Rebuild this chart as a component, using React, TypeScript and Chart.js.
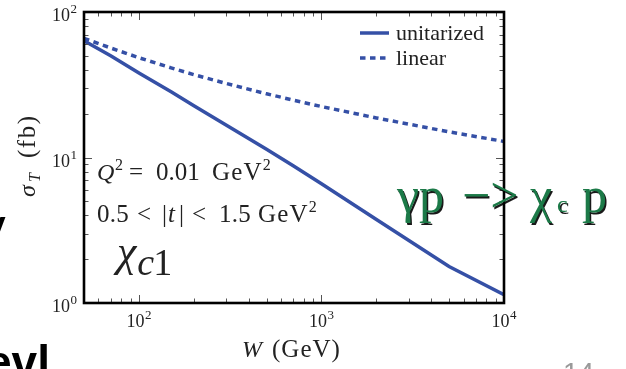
import React, { useEffect, useRef } from "react";
import { Chart, registerables } from "chart.js";

Chart.register(...registerables);

// ---- data ----
const W_VALUES = [50, 70, 100, 150, 200, 300, 500, 700, 1000, 2000, 5000, 10000];
const UNITARIZED = [63.5, 50.0, 38.1, 28.3, 22.7, 16.7, 11.4, 8.77, 6.6, 3.75, 1.78, 1.14];
const LINEAR = [65.9, 56.6, 48.5, 41.3, 37.1, 32.3, 27.4, 24.8, 22.4, 18.7, 15.0, 12.9];
const SERIES_LABELS = ["unitarized", "linear"];

const X_MAJOR = [100, 1000, 10000];
const X_MAJOR_EXP = ["2", "3", "4"];
const Y_MAJOR = [1, 10, 100];
const Y_MAJOR_EXP = ["0", "1", "2"];
const X_MINOR = [60, 70, 80, 90, 200, 300, 400, 500, 600, 700, 800, 900, 2000, 3000, 4000, 5000, 6000, 7000, 8000, 9000];
const Y_MINOR = [2, 3, 4, 5, 6, 7, 8, 9, 20, 30, 40, 50, 60, 70, 80, 90];

const BLUE = "#3550a6";
const SERIF = '"Liberation Serif", "Times New Roman", serif';
const SANS = '"Liberation Sans", sans-serif';

type Seg = { t: string; font: string; dy?: number; gap?: number; x?: number; ls?: number };

function richWidth(ctx: CanvasRenderingContext2D, segs: Seg[]) {
  let w = 0;
  for (const s of segs) {
    ctx.font = s.font;
    (ctx as any).letterSpacing = `${s.ls || 0}px`;
    w += ctx.measureText(s.t).width + (s.gap || 0);
  }
  (ctx as any).letterSpacing = "0px";
  return w;
}

function drawRich(ctx: CanvasRenderingContext2D, x: number, y: number, segs: Seg[]) {
  let cx = x;
  for (const s of segs) {
    if (s.x !== undefined) cx = s.x;
    ctx.font = s.font;
    (ctx as any).letterSpacing = `${s.ls || 0}px`;
    ctx.fillText(s.t, cx, y + (s.dy || 0));
    cx += ctx.measureText(s.t).width + (s.gap || 0);
  }
  (ctx as any).letterSpacing = "0px";
  return cx;
}

const f = (size: number, italic = false, weight = "normal", fam = SERIF) =>
  `${italic ? "italic " : ""}${weight} ${size}px ${fam}`;

const decorPlugin = {
  id: "decor",
  afterDatasetsDraw(chart: any) {
    const ctx: CanvasRenderingContext2D = chart.ctx;
    const { left, right, top, bottom } = chart.chartArea;
    const xs = chart.scales.x;
    const ys = chart.scales.y;
    ctx.save();
    // ticks
    ctx.strokeStyle = "#555";
    ctx.lineWidth = 1;
    const tick = (x1: number, y1: number, x2: number, y2: number) => {
      ctx.beginPath();
      ctx.moveTo(x1, y1);
      ctx.lineTo(x2, y2);
      ctx.stroke();
    };
    X_MAJOR.forEach((v) => {
      const px = Math.round(xs.getPixelForValue(v)) + 0.5;
      tick(px, bottom, px, bottom - 8);
      tick(px, top, px, top + 8);
    });
    X_MINOR.forEach((v) => {
      const px = Math.round(xs.getPixelForValue(v)) + 0.5;
      tick(px, bottom, px, bottom - 4.5);
      tick(px, top, px, top + 4.5);
    });
    Y_MAJOR.forEach((v) => {
      const py = Math.round(ys.getPixelForValue(v)) + 0.5;
      tick(left, py, left + 8, py);
      tick(right, py, right - 8, py);
    });
    Y_MINOR.forEach((v) => {
      const py = Math.round(ys.getPixelForValue(v)) + 0.5;
      tick(left, py, left + 4.5, py);
      tick(right, py, right - 4.5, py);
    });
    // frame
    ctx.strokeStyle = "#000";
    ctx.lineWidth = 2.6;
    ctx.strokeRect(left, top, right - left, bottom - top);

    // tick labels
    ctx.fillStyle = "#222";
    ctx.textBaseline = "alphabetic";
    ctx.textAlign = "left";
    X_MAJOR.forEach((v, i) => {
      const segs: Seg[] = [
        { t: "10", font: f(18), gap: 0.5 },
        { t: X_MAJOR_EXP[i], font: f(13), dy: -8 },
      ];
      const w = richWidth(ctx, segs);
      const px = xs.getPixelForValue(v);
      drawRich(ctx, px - w / 2, bottom + 24, segs);
    });
    Y_MAJOR.forEach((v, i) => {
      const segs: Seg[] = [
        { t: "10", font: f(18), gap: 0.5 },
        { t: Y_MAJOR_EXP[i], font: f(13), dy: -8 },
      ];
      const w = richWidth(ctx, segs);
      const py = ys.getPixelForValue(v);
      drawRich(ctx, left - 7 - w, py + 9, segs);
    });

    // axis titles
    drawRich(ctx, 242, 357, [
      { t: "W", font: f(24, true) },
      { t: "(GeV)", font: f(25), x: 272, ls: 1 },
    ]);

    ctx.save();
    ctx.translate(35, 0);
    ctx.rotate(-Math.PI / 2);
    drawRich(ctx, -197, 0, [
      { t: "σ", font: f(24, true) },
      { t: "T", font: f(16, true), dy: 5, x: -182 },
      { t: "(fb)", font: f(25), x: -158, ls: 1.5 },
    ]);
    ctx.restore();

    // legend
    const legendItems = [
      { label: SERIES_LABELS[0], dash: [] as number[], y: 33 },
      { label: SERIES_LABELS[1], dash: [5.5, 4.5], y: 58 },
    ];
    legendItems.forEach((it) => {
      ctx.strokeStyle = BLUE;
      ctx.lineWidth = 3.5;
      ctx.setLineDash(it.dash);
      ctx.beginPath();
      ctx.moveTo(360, it.y);
      ctx.lineTo(389, it.y);
      ctx.stroke();
      ctx.setLineDash([]);
      ctx.fillStyle = "#222";
      ctx.font = f(22);
      ctx.fillText(it.label, 396, it.y + 7);
    });

    // annotations
    ctx.fillStyle = "#222";
    drawRich(ctx, 98, 180, [
      { t: "Q", font: f(24, true), x: 97 },
      { t: "2", font: f(16), dy: -10, x: 115 },
      { t: "=", font: f(25), x: 129 },
      { t: "0.01", font: f(25), x: 156 },
      { t: "GeV", font: f(25), x: 212, ls: 1.2, gap: 0 },
      { t: "2", font: f(16), dy: -10 },
    ]);
    drawRich(ctx, 97, 222, [
      { t: "0.5", font: f(25), x: 97, ls: 0.3 },
      { t: "<", font: f(25), x: 137 },
      { t: "|", font: f(25), x: 162 },
      { t: "t", font: f(25, true), x: 168 },
      { t: "|", font: f(25), x: 179 },
      { t: "<", font: f(25), x: 192 },
      { t: "1.5", font: f(25), x: 219, ls: 0.3 },
      { t: "GeV", font: f(25), x: 258, ls: 1.2 },
      { t: "2", font: f(16), dy: -10 },
    ]);
    drawRich(ctx, 117, 275, [
      { t: "χ", font: f(44, true), dy: -9, gap: 1 },
      { t: "c", font: f(38, true), gap: -1 },
      { t: "1", font: f(38) },
    ]);

    // green title
    ctx.save();
    ctx.fillStyle = "#1c7a48";
    ctx.shadowColor = "rgba(0,0,0,0.9)";
    ctx.shadowOffsetX = 1.5;
    ctx.shadowOffsetY = 1.5;
    ctx.shadowBlur = 0;
    ctx.font = f(50);
    ctx.fillText("γp", 397, 212);
    ctx.fillText("−>", 462, 212);
    ctx.fillText("χ", 530, 212);
    ctx.font = f(24);
    ctx.fillText("c", 557, 212);
    ctx.font = f(50);
    ctx.fillText("p", 582, 212);
    ctx.restore();

    // slide fragments
    ctx.fillStyle = "#000";
    ctx.font = f(34, false, "bold", SANS);
    ctx.fillText("V", -17, 240);
    ctx.font = f(46, false, "bold", SANS);
    ctx.fillText("evl", -14, 378);
    ctx.fillStyle = "#999";
    ctx.font = f(28, false, "normal", SANS);
    ctx.fillText("14", 563, 382);

    ctx.restore();
  },
};

export default function App() {
  const ref = useRef<HTMLCanvasElement | null>(null);
  useEffect(() => {
    if (!ref.current) return;
    const chart = new Chart(ref.current, {
      type: "line",
      data: {
        datasets: [
          {
            label: SERIES_LABELS[0],
            data: W_VALUES.map((w, i) => ({ x: w, y: UNITARIZED[i] })),
            borderColor: BLUE,
            borderWidth: 3.5,
            pointRadius: 0,
            tension: 0,
            fill: false,
          },
          {
            label: SERIES_LABELS[1],
            data: W_VALUES.map((w, i) => ({ x: w, y: LINEAR[i] })),
            borderColor: BLUE,
            borderWidth: 3.5,
            borderDash: [5.5, 4.5],
            pointRadius: 0,
            tension: 0,
            fill: false,
          },
        ],
      },
      options: {
        animation: false,
        responsive: false,
        maintainAspectRatio: false,
        layout: { padding: { left: 84, right: 122, top: 12, bottom: 66 } },
        scales: {
          x: { type: "logarithmic", min: 50, max: 10000, display: false },
          y: { type: "logarithmic", min: 1, max: 100, display: false },
        },
        plugins: { legend: { display: false }, tooltip: { enabled: false } },
      },
      plugins: [decorPlugin],
    } as any);
    return () => chart.destroy();
  }, []);
  return (
    <div style={{ position: "fixed", left: 0, top: 0, width: 626, height: 369, background: "#fff" }}>
      <canvas ref={ref} width={626} height={369} style={{ width: 626, height: 369, display: "block" }} />
    </div>
  );
}
